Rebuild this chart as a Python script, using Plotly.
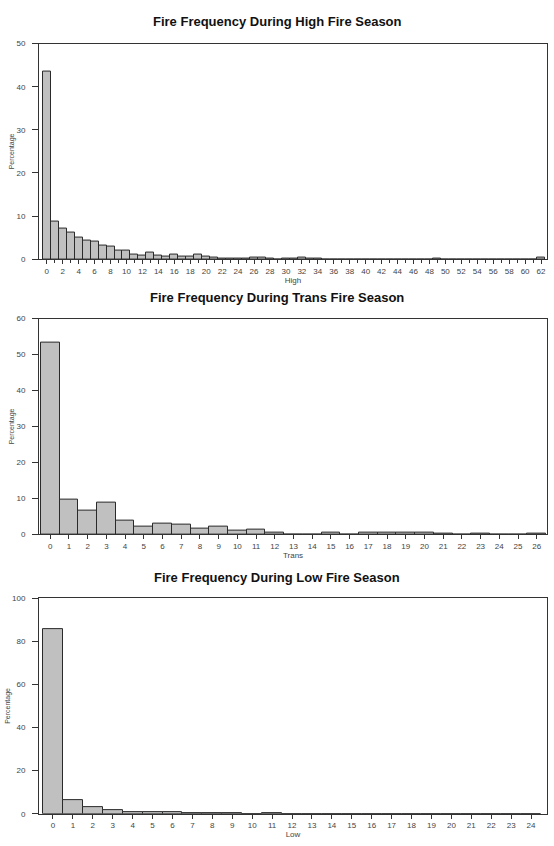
import plotly.graph_objects as go

# ---- data ----
high_cats = list(range(0, 63))
high_vals = [43.5, 8.7, 7.2, 6.3, 5.0, 4.4, 4.2, 3.1, 2.9, 2.1,
             2.1, 1.2, 0.8, 1.5, 0.9, 0.6, 1.2, 0.6, 0.6, 1.0,
             0.6, 0.3, 0.15, 0.15, 0.15, 0.2, 0.3, 0.3, 0.1, 0.0,
             0.2, 0.05, 0.3, 0.05, 0.2, 0.0, 0.0, 0.0, 0.0, 0.0,
             0.0, 0.0, 0.0, 0.0, 0.0, 0.0, 0.0, 0.0, 0.0, 0.2,
             0.0, 0.0, 0.0, 0.0, 0.0, 0.0, 0.0, 0.0, 0.0, 0.0,
             0.0, 0.0, 0.3]
high_ticks = list(range(0, 63, 2))

trans_cats = list(range(0, 27))
trans_vals = [53.2, 9.7, 6.7, 8.8, 3.9, 2.1, 3.0, 2.8, 1.7, 2.1,
              1.0, 1.4, 0.4, 0.0, 0.0, 0.5, 0.0, 0.5, 0.4, 0.5,
              0.5, 0.3, 0.0, 0.3, 0.0, 0.0, 0.3]
trans_ticks = list(range(0, 27))

low_cats = list(range(0, 25))
low_vals = [85.8, 6.4, 3.1, 1.5, 0.9, 0.6, 0.6, 0.3, 0.3, 0.3,
            0.0, 0.3, 0.0, 0.0, 0.0, 0.0, 0.0, 0.0, 0.0, 0.0,
            0.0, 0.0, 0.0, 0.0, 0.0]
low_ticks = list(range(0, 25))

titles = ["Fire Frequency During High Fire Season",
          "Fire Frequency During Trans Fire Season",
          "Fire Frequency During Low Fire Season"]
xtitles = ["High", "Trans", "Low"]
ytitle = "Percentage"

# ---- layout ----
W, H = 554, 846
ML, MR = 39, 7
panels = [
    dict(cats=high_cats, vals=high_vals, ticks=high_ticks, xr=[-0.97, 62.75], yr=[0, 50], dt=10,
         top=40, bot=258, title_y=18, minor=True),
    dict(cats=trans_cats, vals=trans_vals, ticks=trans_ticks, xr=[-0.6, 26.55], yr=[0, 60], dt=10,
         top=318, bot=536, title_y=297, minor=False),
    dict(cats=low_cats, vals=low_vals, ticks=low_ticks, xr=[-0.7, 24.8], yr=[0, 100], dt=20,
         top=600.5, bot=818.5, title_y=580, minor=False),
]

fig = go.Figure()
font_fam = "Liberation Sans, Arial, sans-serif"
axcol = "#333333"
labcol = "#444444"
layout_axes = {}
annotations = []
for i, p in enumerate(panels):
    n = i + 1
    xa = "x" if n == 1 else f"x{n}"
    ya = "y" if n == 1 else f"y{n}"
    fig.add_trace(go.Bar(
        x=p["cats"], y=p["vals"], width=1.0,
        marker=dict(color="#c0c0c0", line=dict(color="#2a2a2a", width=1)),
        xaxis=xa, yaxis=ya, showlegend=False, hoverinfo="x+y"))
    dom_y = [1 - p["bot"] / H, 1 - p["top"] / H]
    xkey = "xaxis" if n == 1 else f"xaxis{n}"
    ykey = "yaxis" if n == 1 else f"yaxis{n}"
    xdict = dict(
        domain=[0, 1], anchor=ya, range=p["xr"],
        tickmode="array", tickvals=p["ticks"], ticktext=[str(t) for t in p["ticks"]],
        ticks="outside", ticklen=4, tickwidth=1, tickcolor=axcol,
        showline=True, linecolor=axcol, linewidth=1, mirror=True,
        showgrid=False, zeroline=False,
        tickfont=dict(family=font_fam, size=8, color=labcol),
        title=dict(text=xtitles[i], font=dict(family=font_fam, size=8, color=labcol), standoff=2),
    )
    if p["minor"]:
        xdict["minor"] = dict(dtick=1, tick0=0, ticks="outside", ticklen=3, tickcolor=axcol, showgrid=False)
    layout_axes[xkey] = xdict
    layout_axes[ykey] = dict(
        domain=dom_y, anchor=xa, range=p["yr"], dtick=p["dt"], tick0=0,
        ticks="outside", ticklen=6, tickwidth=1, tickcolor=axcol,
        ticklabelstandoff=5,
        showline=True, linecolor=axcol, linewidth=1, mirror=True,
        showgrid=False, zeroline=False,
        tickfont=dict(family=font_fam, size=8, color=labcol),
        title=dict(text=ytitle, font=dict(family=font_fam, size=7, color=labcol), standoff=0),
    )
    annotations.append(dict(
        text=f"<b>{titles[i]}</b>", xref="paper", yref="paper",
        x=(277 - ML) / (W - ML - MR), y=1 - p["title_y"] / H,
        xanchor="center", yanchor="middle", showarrow=False,
        font=dict(family=font_fam, size=13, color="#111111")))

fig.update_layout(
    width=W, height=H,
    margin=dict(l=ML, r=MR, t=0, b=0),
    paper_bgcolor="white", plot_bgcolor="white",
    bargap=0, annotations=annotations,
    **layout_axes)

fig.write_html("out.html")
